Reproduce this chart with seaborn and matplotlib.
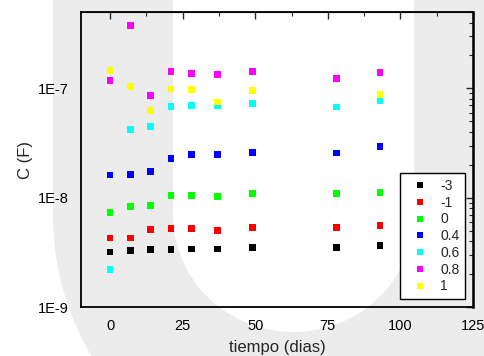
import numpy as np
import pandas as pd
import matplotlib
matplotlib.use("Agg")
import matplotlib.pyplot as plt
import seaborn as sns
from matplotlib.patches import Polygon
from matplotlib.ticker import LogLocator, FuncFormatter, MultipleLocator, NullFormatter

# Data
days = [0, 7, 14, 21, 28, 37, 49, 78, 93]
c_m3 = [3.18e-9, 3.30e-9, 3.34e-9, 3.38e-9, 3.40e-9, 3.40e-9, 3.51e-9, 3.51e-9, 3.68e-9]
c_m1 = [4.27e-9, 4.27e-9, 5.09e-9, 5.27e-9, 5.24e-9, 5.02e-9, 5.31e-9, 5.33e-9, 5.58e-9]
c_0 = [7.38e-9, 8.32e-9, 8.43e-9, 1.04e-8, 1.05e-8, 1.03e-8, 1.09e-8, 1.09e-8, 1.12e-8]
c_04 = [1.61e-8, 1.64e-8, 1.73e-8, 2.27e-8, 2.49e-8, 2.50e-8, 2.61e-8, 2.56e-8, 2.93e-8]
c_06 = [2.22e-9, 4.22e-8, 4.49e-8, 6.84e-8, 6.94e-8, 6.90e-8, 7.24e-8, 6.75e-8, 7.71e-8]
c_08 = [1.18e-7, 3.74e-7, 8.57e-8, 1.43e-7, 1.37e-7, 1.34e-7, 1.43e-7, 1.24e-7, 1.39e-7]
c_1 = [1.45e-7, 1.04e-7, 6.29e-8, 9.86e-8, 9.70e-8, 7.50e-8, 9.60e-8, np.nan, 8.75e-8]

labels = ["-3", "-1", "0", "0.4", "0.6", "0.8", "1"]
series = [c_m3, c_m1, c_0, c_04, c_06, c_08, c_1]
colors = ["#000000", "#ff0000", "#00ff00", "#0000ff", "#00ffff", "#ff00ff", "#ffff00"]

df = pd.concat(
    [pd.DataFrame({"dias": days, "C": vals, "serie": lab}) for lab, vals in zip(labels, series)],
    ignore_index=True,
).dropna()

sns.set_style("white")
plt.rcParams["font.family"] = ["Liberation Sans", "DejaVu Sans"]

W, H = 485, 356
fig = plt.figure(figsize=(W / 100, H / 100), dpi=100)

# faint "U" watermark behind the plot
def px(x, y):
    return (x / W, 1 - y / H)

t = np.linspace(np.pi, 2 * np.pi, 80)
cx, cy = 293.5, 215
outer = [(cx + 240.5 * np.cos(a), cy - 260 * np.sin(a)) for a in t]
inner = [(cx + 120.5 * np.cos(a), cy - 117 * np.sin(a)) for a in t[::-1]]
pts = [(53, -5)] + outer + [(534, -5), (414, -5)] + inner + [(173, -5)]
fig.patches.append(Polygon([px(x, y) for x, y in pts], closed=True,
                           transform=fig.transFigure, facecolor="#ececec",
                           edgecolor="none", zorder=-5))

ax = fig.add_axes([81 / W, 1 - 307 / H, (473 - 81) / W, (307 - 12) / H])
ax.set_facecolor("none")
ax.set_zorder(2)

sns.scatterplot(data=df, x="dias", y="C", hue="serie", hue_order=labels,
                palette=dict(zip(labels, colors)), marker="s", s=24,
                linewidth=0, ax=ax)

ax.set_yscale("log")
ax.set_xlim(-10, 125)
ax.set_ylim(1e-9, 5e-7)

ax.xaxis.set_major_locator(MultipleLocator(25))
ax.xaxis.set_minor_locator(MultipleLocator(12.5))
ax.yaxis.set_major_locator(LogLocator(base=10))
ax.yaxis.set_minor_locator(LogLocator(base=10, subs=np.arange(2, 10)))
ax.yaxis.set_major_formatter(FuncFormatter(lambda v, p: f"1E{int(round(np.log10(v)))}"))
ax.yaxis.set_minor_formatter(NullFormatter())

ax.tick_params(which="major", direction="out", length=5, width=1, labelsize=10.5, colors="black")
ax.tick_params(which="minor", direction="out", length=3, width=0.8)

for sp in ax.spines.values():
    sp.set_color("black")
    sp.set_linewidth(1.3)
ax.spines["right"].set_linewidth(1.8)

# inward ticks on top and right
top = ax.secondary_xaxis("top")
top.xaxis.set_major_locator(MultipleLocator(25))
top.xaxis.set_minor_locator(MultipleLocator(12.5))
top.tick_params(which="major", direction="in", length=5, width=1, labeltop=False)
top.tick_params(which="minor", direction="in", length=3, width=0.8)
right = ax.secondary_yaxis("right")
right.yaxis.set_major_locator(LogLocator(base=10))
right.yaxis.set_minor_locator(LogLocator(base=10, subs=np.arange(2, 10)))
right.yaxis.set_minor_formatter(NullFormatter())
right.tick_params(which="major", direction="in", length=5, width=1, labelright=False)
right.tick_params(which="minor", direction="in", length=3, width=0.8)

ax.set_xlabel("tiempo (dias)", fontsize=12, labelpad=5)
ax.set_ylabel("C (F)", fontsize=12, labelpad=4)

handles, labs = ax.get_legend_handles_labels()
leg = ax.legend(handles, labs, loc="lower right", bbox_to_anchor=(0.98, 0.027),
                borderaxespad=0, fontsize=10, frameon=True, fancybox=False,
                framealpha=1, edgecolor="black", handlelength=2.0,
                handletextpad=0.5, labelspacing=0.2, borderpad=0.4)
leg.get_frame().set_linewidth(1.0)

fig.savefig("out.png", dpi=100)
